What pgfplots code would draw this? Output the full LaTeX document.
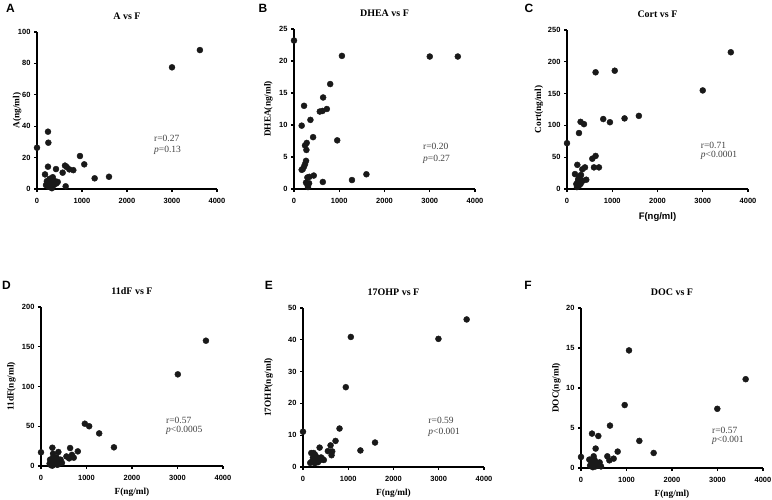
\documentclass[border=0pt]{standalone}
\usepackage{fontspec}
\setmainfont{Liberation Serif}
\setsansfont{Liberation Sans}
\usepackage{pgfplots}
\pgfplotsset{compat=1.18}
\pgfplotsset{
 panel/.style={
  scale only axis,
  axis x line*=bottom, axis y line*=left,
  axis line style={line width=1.2pt, black},
  xmin=0, xmax=4000, ymin=0,
  xtick={0,1000,2000,3000,4000},
  tick align=outside, major tick length=3pt,
  tick style={line width=1.1pt, black},
  ticklabel style={font=\sffamily\bfseries\fontsize{7.5}{8}\selectfont},
  xticklabel style={yshift=-2.5pt},
  /pgf/number format/assume math mode=true,
  /pgf/number format/1000 sep={},
  scaled ticks=false,
  clip=false,
  title style={font=\bfseries\fontsize{10}{11}\selectfont, at={(axis description cs:0.5,1)}, anchor=center, yshift=10pt},
  label style={font=\bfseries\fontsize{9.3}{10}\selectfont},
 },
 pts/.style={only marks, mark=*, mark size=3pt, black, mark options={fill=black!90, draw=black!90}},
}
\tikzset{stat/.style={anchor=west, font=\fontsize{9.5}{10}\selectfont, text=black!75, inner sep=0pt}}
\begin{document}
\begin{tikzpicture}
\path[use as bounding box] (0pt,0pt) rectangle (772pt,-500pt);
% ---------- A
\begin{axis}[panel, at={(37pt,-189pt)}, anchor=south west, width=180pt, height=157pt,
  ymax=100, ytick={0,20,...,100}, title={A vs F}, ylabel={A(ng/ml)},
  ylabel style={at={(axis description cs:-0.11,0.5)}, anchor=center}]
\addplot[pts] coordinates {
(0,26.3) (244,36.5) (252,29.5) (244,14.2) (178,9.3) (422,12.7) (570,10.4) (622,14.9)
(660,14) (718,12.5) (807,12) (955,21) (1050,15.7) (1281,6.8) (1600,7.8) (3000,77.5)
(3620,88.5) (637,1.7) (200,2.5) (220,5) (260,3) (280,6.5) (300,1.2) (320,4) (350,7.5)
(370,2.5) (400,5) (430,3.5) (460,4.5) (330,0.5) (250,1.5)};
\node[stat] at (axis cs:2600,32.5) {r=0.27};
\node[stat] at (axis cs:2600,24.8) {\textit{p}=0.13};
\end{axis}
% ---------- B
\begin{axis}[panel, at={(294pt,-189pt)}, anchor=south west, width=181pt, height=160pt,
  ymax=25, ytick={0,5,...,25}, title={DHEA vs F}, ylabel={DHEA(ng/ml)},
  ylabel style={at={(axis description cs:-0.141,0.5)}, anchor=center}]
\addplot[pts] coordinates {
(0,23.2) (1059,20.8) (800,16.4) (644,14.3) (726,12.5) (570,12.1) (630,12.2) (222,13)
(363,10.8) (170,9.9) (422,8.1) (955,7.6) (281,7.2) (244,6.8) (274,6.1) (266,4.4)
(244,3.9) (222,3.5) (193,3.1) (170,3.0) (340,1.9) (437,2.1) (296,1.8) (266,1.0)
(300,0.6) (333,0.9) (637,1.1) (1281,1.4) (1600,2.3) (3000,20.7) (3620,20.7) (310,0.3)};
\node[stat] at (axis cs:2851,6.6) {r=0.20};
\node[stat] at (axis cs:2851,4.7) {\textit{p}=0.27};
\end{axis}
% ---------- C
\begin{axis}[panel, at={(567pt,-189pt)}, anchor=south west, width=181pt, height=159pt,
  ymax=250, ytick={0,50,...,250}, title={Cort vs F}, ylabel={Cort(ng/ml)}, xlabel={F(ng/ml)},
  ylabel style={at={(axis description cs:-0.155,0.5)}, anchor=center},
  xlabel style={at={(axis description cs:0.5,0)}, anchor=center, yshift=-28pt,
    font=\sffamily\bfseries\fontsize{9.5}{10}\selectfont}]
\addplot[pts] coordinates {
(0,72) (632,183.5) (1055,186) (3000,155) (3620,215) (300,105.6) (375,102) (265,88)
(801,110) (949,105) (1272,111) (1588,115) (559,47.6) (632,52) (596,34) (706,34)
(228,38) (338,31) (397,34) (176,23.5) (426,14.6) (280,20) (206,7.8) (350,13) (240,12)
(220,3) (260,5) (300,8) (250,16) (310,22)};
\node[stat] at (axis cs:2955,68) {r=0.71};
\node[stat] at (axis cs:2955,52.4) {\textit{p}<0.0001};
\end{axis}
% ---------- D
\begin{axis}[panel, at={(41pt,-466pt)}, anchor=south west, width=182pt, height=159pt,
  ymax=200, ytick={0,50,...,200}, title={11dF vs F}, ylabel={11dF(ng/ml)}, xlabel={F(ng/ml)},
  ylabel style={at={(axis description cs:-0.162,0.5)}, anchor=center},
  xlabel style={at={(axis description cs:0.5,0)}, anchor=center, yshift=-26pt}]
\addplot[pts] coordinates {
(0,17.2) (963,53.2) (1059,50) (1279,41) (1603,23.5) (3007,115.3) (3625,157.6) (250,23)
(640,22.6) (809,18.4) (382,17.6) (265,15.5) (559,12) (618,9.6) (720,10.5) (680,14)
(190,3) (200,8) (220,1) (240,5) (260,10) (280,2) (300,7) (320,4) (340,11) (360,1.5)
(380,6) (400,3) (430,8) (460,4) (250,0.5)};
\node[stat] at (axis cs:2747,57.9) {r=0.57};
\node[stat] at (axis cs:2747,44.4) {\textit{p}<0.0005};
\end{axis}
% ---------- E
\begin{axis}[panel, at={(303pt,-467pt)}, anchor=south west, width=181pt, height=159pt,
  ymax=50, ytick={0,10,...,50}, title={17OHP vs F}, ylabel={17OHP(ng/ml)}, xlabel={F(ng/ml)},
  ylabel style={at={(axis description cs:-0.19,0.5)}, anchor=center},
  xlabel style={at={(axis description cs:0.5,0)}, anchor=center, yshift=-26pt}]
\addplot[pts] coordinates {
(0,11.1) (1057,40.9) (946,25.1) (807,12.1) (719,8.2) (609,6.8) (646,4.9) (550,5.0)
(631,3.7) (1269,5.2) (1592,7.7) (2993,40.3) (3617,46.4) (367,6.1) (183,4.4) (235,4.4)
(160,1.3) (200,1.8) (220,3) (250,2.5) (270,3.8) (290,2) (310,3) (330,1.5) (350,2.8)
(380,2.2) (400,3) (430,2.5) (460,2.2) (260,1.2)};
\node[stat] at (axis cs:2769,14.7) {r=0.59};
\node[stat] at (axis cs:2769,10.9) {\textit{p}<0.001};
\end{axis}
% ---------- F
\begin{axis}[panel, at={(581pt,-468pt)}, anchor=south west, width=182pt, height=160pt,
  ymax=20, ytick={0,5,...,20}, title={DOC vs F}, ylabel={DOC(ng/ml)}, xlabel={F(ng/ml)},
  ylabel style={at={(axis description cs:-0.135,0.5)}, anchor=center},
  xlabel style={at={(axis description cs:0.5,0)}, anchor=center, yshift=-26pt}]
\addplot[pts] coordinates {
(0,1.38) (1055,14.7) (960,7.87) (637,5.3) (242,4.3) (381,4.0) (322,2.43) (1282,3.39)
(1597,1.88) (806,2.05) (2996,7.4) (3619,11.1) (579,1.46) (623,0.96) (718,1.17)
(183,1.05) (278,1.46) (200,0.3) (230,0.7) (260,0.1) (290,0.5) (320,0.2) (350,0.6)
(380,0.3) (410,0.7) (440,0.2) (300,1.0) (250,0.9)};
\node[stat] at (axis cs:2879,4.7) {r=0.57};
\node[stat] at (axis cs:2879,3.4) {\textit{p}<0.001};
\end{axis}
% panel letters
\begin{scope}[every node/.style={font=\sffamily\bfseries\fontsize{12}{12}\selectfont, inner sep=0pt}]
\node at (10.5pt,-8pt) {A};
\node at (263pt,-8pt) {B};
\node at (529pt,-8pt) {C};
\node at (6.5pt,-285.5pt) {D};
\node at (269pt,-285pt) {E};
\node at (528pt,-285pt) {F};
\end{scope}
\end{tikzpicture}
\end{document}
